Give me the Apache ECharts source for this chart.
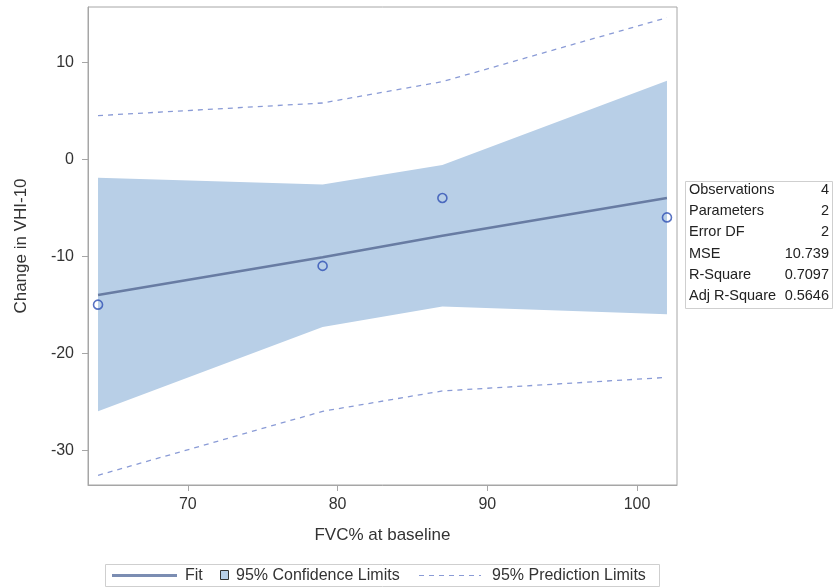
<!DOCTYPE html>
<html>
<head>
<meta charset="utf-8">
<script src="https://cdn.jsdelivr.net/npm/echarts@6/dist/echarts.min.js"></script>
<style>html,body{margin:0;padding:0;background:#fff}#c{width:834px;height:587px}</style>
</head>
<body>
<div id="c"></div>
<script>
// Data
const fvc = [64, 79, 87, 102];
const vhiChange = [-15, -11, -4, -6];
const fitValues = [-14.0, -10.1, -7.9, -4.0];
const clLower = [-26.0, -17.3, -15.2, -16.0];
const clUpper = [-1.9, -2.6, -0.6, 8.1];
const plLower = [-32.6, -26.0, -23.9, -22.5];
const plUpper = [4.5, 5.8, 8.0, 14.6];
const xTicks = [70, 80, 90, 100];
const yTicks = [-30, -20, -10, 0, 10];
const statLabels = ['Observations', 'Parameters', 'Error DF', 'MSE', 'R-Square', 'Adj R-Square'];
const statValues = ['4', '2', '2', '10.739', '0.7097', '0.5646'];
const legendLabels = ['Fit', '95% Confidence Limits', '95% Prediction Limits'];

const FONT = 'Liberation Sans, Arial, sans-serif';
const TXT = '#333333';
const AXC = '#a6a6a6';
const BAND = '#b8cfe7';
const FITC = '#687ca3';
const PLC = '#8a9bd6';
const PTC = '#2f50b4';

const pairs = (xs, ys) => xs.map((x, i) => [x, ys[i]]);

const chart = echarts.init(document.getElementById('c'), null, {renderer: 'canvas'});

const graphic = [];
// legend
graphic.push({type: 'rect', shape: {x: 105.5, y: 564.5, width: 554, height: 22}, style: {fill: '#fff', stroke: '#cfcfcf', lineWidth: 1}});
graphic.push({type: 'line', shape: {x1: 112, y1: 575.5, x2: 177, y2: 575.5}, style: {stroke: '#7b8db2', lineWidth: 3}});
graphic.push({type: 'text', x: 185, y: 575.5, style: {text: legendLabels[0], font: '16px ' + FONT, fill: TXT, verticalAlign: 'middle'}});
graphic.push({type: 'rect', shape: {x: 220.5, y: 570.5, width: 8, height: 9}, style: {fill: BAND, stroke: '#333', lineWidth: 1}});
graphic.push({type: 'text', x: 236, y: 575.5, style: {text: legendLabels[1], font: '16px ' + FONT, fill: TXT, verticalAlign: 'middle'}});
graphic.push({type: 'line', shape: {x1: 419, y1: 575.5, x2: 481, y2: 575.5}, style: {stroke: PLC, lineWidth: 1.2, lineDash: [5, 5]}});
graphic.push({type: 'text', x: 492, y: 575.5, style: {text: legendLabels[2], font: '16px ' + FONT, fill: TXT, verticalAlign: 'middle'}});
// stats table
graphic.push({type: 'rect', shape: {x: 685.5, y: 181.5, width: 147, height: 127}, style: {fill: '#fff', stroke: '#cfcfcf', lineWidth: 1}});
statLabels.forEach((lab, i) => {
  const y = 190 + i * 21.2;
  graphic.push({type: 'text', x: 689, y: y, style: {text: lab, font: '14.5px ' + FONT, fill: '#222', verticalAlign: 'middle'}});
  graphic.push({type: 'text', x: 829, y: y, style: {text: statValues[i], font: '14.5px ' + FONT, fill: '#222', verticalAlign: 'middle', align: 'right'}});
});

const option = {
  animation: false,
  backgroundColor: '#fff',
  grid: {left: 88, right: 157, top: 7, bottom: 102, show: true, borderColor: AXC, borderWidth: 1, backgroundColor: 'transparent'},
  xAxis: {
    type: 'value', min: 63.33, max: 102.67,
    name: 'FVC% at baseline', nameLocation: 'middle', nameGap: 42,
    nameTextStyle: {fontFamily: FONT, fontSize: 17, color: TXT},
    axisLine: {show: true, onZero: false, lineStyle: {color: AXC}},
    axisTick: {show: true, length: 6, customValues: xTicks, lineStyle: {color: AXC}},
    axisLabel: {customValues: xTicks, margin: 12, fontFamily: FONT, fontSize: 16, color: TXT},
    splitLine: {show: false}
  },
  yAxis: {
    type: 'value', min: -33.6, max: 15.7,
    name: 'Change in VHI-10', nameLocation: 'middle', nameGap: 58,
    nameTextStyle: {fontFamily: FONT, fontSize: 17, color: TXT},
    axisLine: {show: true, onZero: false, lineStyle: {color: AXC}},
    axisTick: {show: true, length: 6, customValues: yTicks, lineStyle: {color: AXC}},
    axisLabel: {customValues: yTicks, margin: 14, fontFamily: FONT, fontSize: 16, color: TXT},
    splitLine: {show: false}
  },
  series: [
    {
      type: 'custom', name: 'CL', silent: true, z: 1,
      data: fvc.map((x, i) => [x, clLower[i], clUpper[i]]),
      renderItem: function (params, api) {
        if (params.dataIndex !== 0) return null;
        const pts = [];
        for (let i = 0; i < fvc.length; i++) pts.push(api.coord([fvc[i], clUpper[i]]));
        for (let i = fvc.length - 1; i >= 0; i--) pts.push(api.coord([fvc[i], clLower[i]]));
        return {type: 'polygon', shape: {points: pts}, style: {fill: BAND}};
      }
    },
    {type: 'line', name: 'PLU', data: pairs(fvc, plUpper), symbol: 'none', z: 2,
     lineStyle: {color: PLC, width: 1.3, type: [5, 5]}},
    {type: 'line', name: 'PLL', data: pairs(fvc, plLower), symbol: 'none', z: 2,
     lineStyle: {color: PLC, width: 1.3, type: [5, 5]}},
    {type: 'line', name: 'Fit', data: pairs(fvc, fitValues), symbol: 'none', z: 3,
     lineStyle: {color: FITC, width: 2.5}},
    {type: 'scatter', name: 'Obs', data: pairs(fvc, vhiChange), symbol: 'circle', symbolSize: 9, z: 4,
     itemStyle: {color: 'rgba(0,0,0,0)', borderColor: PTC, borderWidth: 1.6}}
  ],
  graphic: graphic
};
chart.setOption(option);
</script>
</body>
</html>
